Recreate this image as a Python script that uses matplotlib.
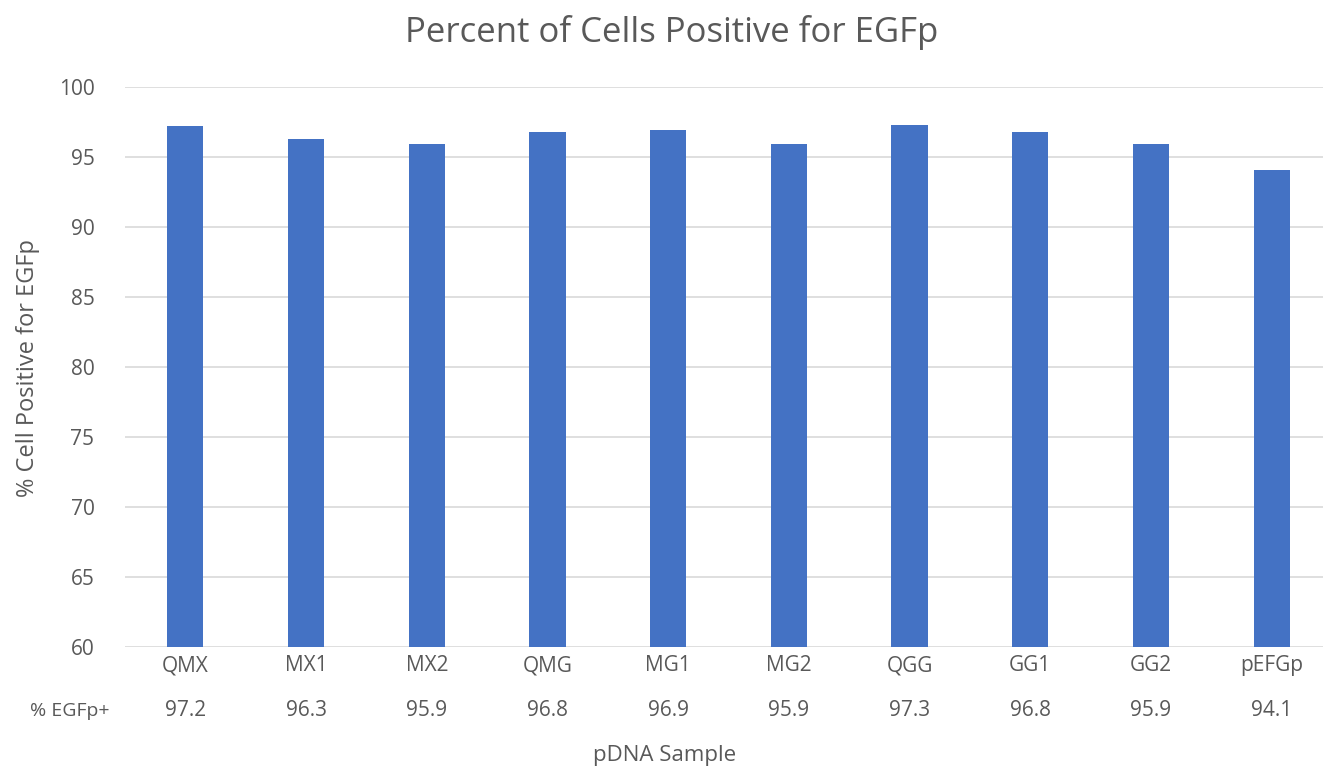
import matplotlib as mpl
import matplotlib.pyplot as plt
import numpy as np

mpl.use("Agg")
plt.rcParams["font.family"] = ["Open Sans", "DejaVu Sans"]

samples = ["QMX", "MX1", "MX2", "QMG", "MG1", "MG2", "QGG", "GG1", "GG2", "pEFGp"]
pct_pos = [97.2, 96.3, 95.9, 96.8, 96.9, 95.9, 97.3, 96.8, 95.9, 94.1]
yticks = [60, 65, 70, 75, 80, 85, 90, 95, 100]

GREY = "#595959"
BAR = "#4472C4"
W, H = 1323, 767
L, R = 125, 1332  # axes left/right in px (right spills past the edge like the source)

fig = plt.figure(figsize=(W / 100, H / 100), dpi=100)
ax = fig.add_axes([L / W, 1 - 647 / H, (R - L) / W, (647 - 87) / H])

x = np.arange(len(samples))
ax.bar(x, pct_pos, width=0.30, color=BAR, zorder=3)
ax.set_xlim(-0.5, len(samples) - 0.5)
ax.set_ylim(60, 100)
ax.set_yticks(yticks)
ax.set_yticklabels([str(t) for t in yticks], fontsize=15, color=GREY)
ax.tick_params(axis="y", length=0, pad=22)
ax.grid(axis="y", color="#D9D9D9", lw=1.2, zorder=0)
for s in ax.spines.values():
    s.set_visible(False)
ax.set_xticks(x)
ax.set_xticklabels(samples, fontsize=15, color=GREY)
ax.tick_params(axis="x", length=0, pad=6)

# data table row under the category labels
y_row = 1 - 711 / H
for xi, v in zip(x, pct_pos):
    px = L + (xi + 0.5) * (R - L) / len(samples)
    fig.text(px / W, y_row, f"{v:.1f}", ha="center", va="center", fontsize=15, color=GREY)
fig.text(70 / W, y_row, "% EGFp+", ha="center", va="center", fontsize=14, color=GREY)

fig.text(665 / W, 1 - 755 / H, "pDNA Sample", ha="center", va="center", fontsize=16, color=GREY)
fig.text(28 / W, 1 - 368 / H, "% Cell Positive for EGFp", ha="center", va="center",
         rotation=90, fontsize=17, color=GREY)
fig.text(672 / W, 1 - 33 / H, "Percent of Cells Positive for EGFp", ha="center", va="center",
         fontsize=25, color=GREY)

fig.savefig("out.png", dpi=100, facecolor="white")
